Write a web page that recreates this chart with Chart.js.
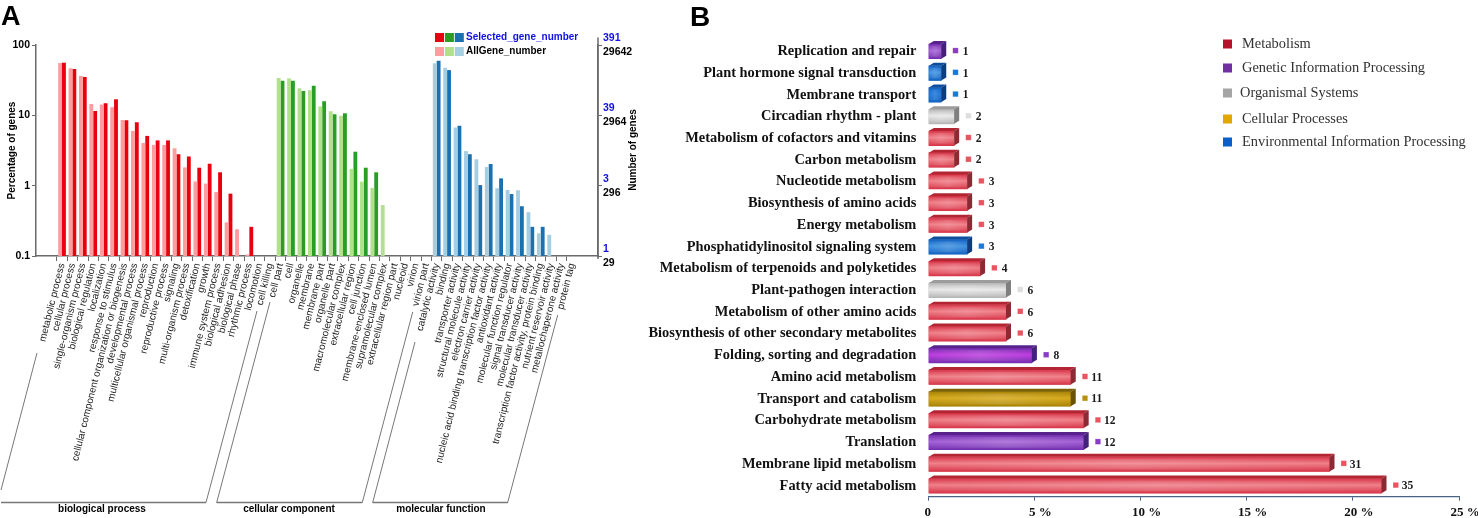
<!DOCTYPE html>
<html><head><meta charset="utf-8">
<script src="https://cdn.jsdelivr.net/npm/chart.js@4"></script>
<style>
html,body{margin:0;padding:0;background:#fff;overflow:hidden}
canvas{position:absolute;top:0}
#a{left:0}#b{left:630px}
</style></head><body>
<canvas id="a" width="645" height="518"></canvas>
<canvas id="b" width="848" height="518"></canvas>
<script>
// ---------- Panel A data ----------
const goCategories = ["","",
 "metabolic process","cellular process","single-organism process","biological regulation","localization","response to stimulus","cellular component organization or biogenesis","developmental process","multicellular organismal process","reproduction","reproductive process","signaling","multi-organism process","detoxification","growth","immune system process","biological adhesion","biological phase","rhythmic process","locomotion","cell killing",
 "cell part","cell","organelle","membrane","membrane part","organelle part","macromolecular complex","extracellular region","cell junction","membrane-enclosed lumen","supramolecular complex","extracellular region part","nucleoid","virion","virion part",
 "catalytic activity","binding","transporter activity","structural molecule activity","electron carrier activity","nucleic acid binding transcription factor activity","antioxidant activity","molecular function regulator","signal transducer activity","molecular transducer activity","transcription factor activity, protein binding","nutrient reservoir activity","metallochaperone activity","protein tag",
 "",""];
const allGene = [null,null,
 55.5,46.6,36.2,14.5,14.3,13,8.6,6,4.05,3.8,3.8,3.4,1.82,1.15,1.07,.81,.3,.24,.105,null,null,
 34,33.5,24.2,22.7,13.3,11.4,9.9,1.73,1.14,.93,.53,null,null,null,null,
 54.9,47.6,6.7,3.1,2.37,1.84,.92,.87,.86,.42,.21,.2,null,null,
 null,null];
const selectedGene = [null,null,
 56,45.6,35,11.5,14.8,16.9,8.5,8,5.1,4.4,4.4,2.8,2.6,1.8,2.05,1.55,.77,null,.26,null,null,
 31,31,22.2,26.4,15.8,10.4,10.7,3.04,1.8,1.55,null,null,null,null,null,
 59.9,44,7.1,2.8,1.02,2.03,1.27,.76,.51,.26,.26,null,null,null,
 null,null];
const groupNames = ["biological process","cellular component","molecular function"];
const groupSizes = [21,15,14];
const leftTicks = [0.1,1,10,100];
const rightSelected = ["1","3","39","391"];
const rightAll = ["29","296","2964","29642"];
const lightColors = ["#ff9c9f","#b2e08c","#a6cee3"];
const darkColors = ["#e8000f","#2a9d26","#1b70b0"];

// ---------- Panel B data ----------
const pathways = ["Replication and repair","Plant hormone signal transduction","Membrane transport","Circadian rhythm - plant","Metabolism of cofactors and vitamins","Carbon metabolism","Nucleotide metabolism","Biosynthesis of amino acids","Energy metabolism","Phosphatidylinositol signaling system","Metabolism of terpenoids and polyketides","Plant-pathogen interaction","Metabolism of other amino acids","Biosynthesis of other secondary metabolites","Folding, sorting and degradation","Amino acid metabolism","Transport and catabolism","Carbohydrate metabolism","Translation","Membrane lipid metabolism","Fatty acid metabolism"];
const percents = [.61,.61,.61,1.22,1.22,1.22,1.83,1.83,1.83,1.83,2.44,3.66,3.66,3.66,4.88,6.71,6.71,7.32,7.32,18.9,21.35];
const geneCounts = [1,1,1,2,2,2,3,3,3,3,4,6,6,6,8,11,11,12,12,31,35];
const pathwayClass = [1,4,4,2,0,0,0,0,0,4,0,2,0,0,1,0,3,0,1,0,0];
const classNames = ["Metabolism","Genetic Information Processing","Organismal Systems","Cellular Processes","Environmental Information Processing"];
const classSwatch = ["#b5122b","#7030a0","#a5a5a5","#e0a800","#0a60c8"];
const xTicksB = [0,5,10,15,20,25];

const SANS='"Liberation Sans", Arial, sans-serif', SERIF='"Liberation Serif", "Times New Roman", serif';
const AXIS='#6a6a6a';
function groupOf(i){let k=i-2;for(let g=0;g<groupSizes.length;g++){if(k<groupSizes[g])return g;k-=groupSizes[g];}return 0;}

// ---------- Panel A decorations ----------
const brackets=[
 [[37,353],[1,490]],
 [[1,502.5],[206,502.5],[257,311]],
 [[270,302],[216.7,502.5],[362.3,502.5],[412.7,312]],
 [[415,342],[372.7,502.5],[507.7,502.5],[557.7,315]]
];
const groupLabelX=[102,289,441];
const panelA={id:'panelA',afterDraw(c){
 const x=c.ctx,y1=c.scales.y1,L=c.chartArea;
 x.save();
 x.fillStyle='#000';x.font='bold 27px '+SANS;x.textBaseline='alphabetic';x.textAlign='left';x.fillText('A',1,25);
 x.strokeStyle=AXIS;x.lineWidth=1.5;
 x.beginPath();x.moveTo(L.right,L.top-7.5);x.lineTo(L.right,L.bottom+3);x.stroke();
 x.font='bold 10.5px '+SANS;x.textBaseline='middle';
 leftTicks.forEach((v,i)=>{const p=y1.getPixelForValue(v);
  x.fillStyle='#1010e8';x.fillText(rightSelected[i],603,p-7);
  x.fillStyle='#000';x.fillText(rightAll[i],603,p+7);});
 x.save();x.translate(633,150);x.rotate(-Math.PI/2);x.textAlign='center';x.fillStyle='#000';x.font='bold 10px '+SANS;x.fillText('Number of genes',0,0);x.restore();
 x.strokeStyle='#777';x.lineWidth=1;
 brackets.forEach(b=>{x.beginPath();b.forEach((p,i)=>i?x.lineTo(p[0],p[1]):x.moveTo(p[0],p[1]));x.stroke();});
 x.lineWidth=1.6;x.beginPath();
 [[1,206],[216.7,362.3],[372.7,507.7]].forEach(s=>{x.moveTo(s[0],502.5);x.lineTo(s[1],502.5);});x.stroke();
 x.fillStyle='#000';x.font='bold 10px '+SANS;x.textAlign='center';x.textBaseline='middle';
 groupNames.forEach((n,i)=>x.fillText(n,groupLabelX[i],509.5));
 [darkColors,lightColors].forEach((cols,r)=>{cols.forEach((col,i)=>{x.fillStyle=col;x.fillRect(435+i*9.9,33+r*14,9,9);});});
 x.textAlign='left';x.font='bold 10px '+SANS;
 x.fillStyle='#1010e8';x.fillText('Selected_gene_number',466,37);
 x.fillStyle='#000';x.fillText('AllGene_number',466,51);
 x.restore();
}};

new Chart(document.getElementById('a'),{type:'bar',plugins:[panelA],
 data:{labels:goCategories,datasets:[
  {label:'AllGene_number',data:allGene,backgroundColor:c=>lightColors[groupOf(c.dataIndex)]},
  {label:'Selected_gene_number',data:selectedGene,backgroundColor:c=>darkColors[groupOf(c.dataIndex)]}]},
 options:{responsive:false,animation:false,devicePixelRatio:1,
  layout:{padding:{top:45,left:0,right:0,bottom:0}},
  plugins:{legend:{display:false},tooltip:{enabled:false}},
  datasets:{bar:{categoryPercentage:.74,barPercentage:1}},
  scales:{
   x:{type:'category',offset:true,
    afterFit(s){s.height=262;s.paddingLeft=0;s.paddingRight=0;},
    grid:{offset:true,drawOnChartArea:false,drawTicks:true,tickLength:5,
      tickColor:c=>(c.index>=2&&c.index<=51)?AXIS:'rgba(0,0,0,0)'},
    border:{color:AXIS,width:1.5},
    ticks:{autoSkip:false,minRotation:76,maxRotation:76,padding:1,color:'#222',font:{family:SANS,size:10}}},
   y:{type:'logarithmic',min:.1,max:100,position:'left',
    afterFit(s){s.width=36;s.paddingTop=0;s.paddingBottom=0;},
    afterBuildTicks(s){s.ticks=leftTicks.map(v=>({value:v}));},
    grid:{drawOnChartArea:false,tickLength:4,tickColor:AXIS},
    border:{color:AXIS,width:1.5},
    title:{display:true,text:'Percentage of genes',color:'#000',font:{family:SANS,size:10,weight:'bold'},padding:{top:6,bottom:0}},
    ticks:{padding:2,color:'#000',font:{family:SANS,size:10.5,weight:'bold'},callback:v=>String(v)}},
   y1:{type:'logarithmic',min:.1,max:100,position:'right',
    afterFit(s){s.width=47;s.paddingTop=0;s.paddingBottom=0;},
    afterBuildTicks(s){s.ticks=leftTicks.map(v=>({value:v}));},
    grid:{drawOnChartArea:false,tickLength:4,tickColor:AXIS},
    border:{color:AXIS,width:1.5},
    ticks:{display:false}}
  }}});

// ---------- Panel B ----------
const bandStyles=[
 {edge:'#d8374a',mid:'#ef8089',top:'#b42533',side:'#8c2a34',sq:'#ea5460'},
 {edge:'#7530b0',mid:'#a463d6',top:'#57228c',side:'#43207a',sq:'#8a3cc8'},
 {edge:'#b6b6b6',mid:'#e8e8e8',top:'#9c9c9c',side:'#7f7f7f',sq:'#dedede'},
 {edge:'#a88408',mid:'#d6aa1a',top:'#7d6308',side:'#695206',sq:'#b8900c'},
 {edge:'#1463c2',mid:'#4293e2',top:'#0f4e9c',side:'#0d3d7e',sq:'#1a78d8'}];
const rowMid={2:'#1f78dc',14:'#c03ce0'};
const DEPTHX=5,DEPTHY=3,BAR_H=14.6;
const legendRows=[[1242,44],[1242,68],[1240,93],[1242,119],[1242,142]];
const panelB={id:'panelB',afterDatasetsDraw(c){
 const x=c.ctx,m=c.getDatasetMeta(0),ox=630;
 x.save();
 m.data.forEach((el,i)=>{const s=bandStyles[pathwayClass[i]],t=el.y-BAR_H/2,b=el.y+BAR_H/2,e=el.x,z=el.base;
  const v=x.createLinearGradient(0,t,0,b);v.addColorStop(0,s.edge);v.addColorStop(.45,rowMid[i]||s.mid);v.addColorStop(1,s.edge);
  x.fillStyle=v;x.fillRect(z,t,e-z,BAR_H);
  x.fillStyle=s.top;x.beginPath();x.moveTo(z,t);x.lineTo(z+DEPTHX,t-DEPTHY);x.lineTo(e+DEPTHX,t-DEPTHY);x.lineTo(e,t);x.closePath();x.fill();
  x.fillStyle=s.side;x.beginPath();x.moveTo(e,t);x.lineTo(e+DEPTHX,t-DEPTHY);x.lineTo(e+DEPTHX,b-DEPTHY);x.lineTo(e,b);x.closePath();x.fill();
  const g=x.createLinearGradient(z,0,e,0);g.addColorStop(0,'rgba(255,255,255,0)');g.addColorStop(.5,'rgba(255,255,255,.14)');g.addColorStop(1,'rgba(255,255,255,0)');
  x.fillStyle=g;x.fillRect(z,t+2,e-z,BAR_H-4);
  x.fillStyle=s.sq;x.fillRect(e+11.5,el.y-3.5,5.5,5.5);
  x.strokeStyle='rgba(255,255,255,.35)';x.lineWidth=.6;x.strokeRect(e+11.5,el.y-3.5,5.5,5.5);
  x.fillStyle='#1a1a1a';x.font='bold 11.5px '+SERIF;x.textAlign='center';x.textBaseline='middle';
  x.fillText(String(geneCounts[i]),e+(geneCounts[i]>9?26:24.5),el.y+.5);
 });
 x.fillStyle='#000';x.font='bold 28px '+SANS;x.textAlign='left';x.textBaseline='alphabetic';x.fillText('B',60,26);
 classNames.forEach((n,i)=>{const r=legendRows[i];
  x.fillStyle=classSwatch[i];x.fillRect(1223-ox,r[1]-4.5,9,9);
  x.fillStyle='#333';x.font='14.4px '+SERIF;x.textBaseline='middle';x.fillText(n,r[0]-ox,r[1]);});
 x.restore();
}};
new Chart(document.getElementById('b'),{type:'bar',plugins:[panelB],
 data:{labels:pathways,datasets:[{label:'Percent',data:percents,barThickness:BAR_H,borderWidth:0,
  backgroundColor:c=>bandStyles[pathwayClass[c.dataIndex]].edge}]},
 options:{indexAxis:'y',responsive:false,animation:false,devicePixelRatio:1,
  layout:{padding:{top:40.5,left:0,right:19,bottom:0}},
  plugins:{legend:{display:false},tooltip:{enabled:false}},
  scales:{
   y:{type:'category',offset:true,
    afterFit(s){s.width=298.3;s.paddingTop=0;s.paddingBottom=0;},
    grid:{display:false,drawTicks:false},border:{display:false},
    ticks:{autoSkip:false,padding:12,color:'#111',font:{family:SERIF,size:14.4,weight:'bold'}}},
   x:{type:'linear',min:0,max:25,position:'bottom',
    afterFit(s){s.height=21.3;s.paddingLeft=0;s.paddingRight=0;},
    afterBuildTicks(s){s.ticks=xTicksB.map(v=>({value:v}));},
    grid:{drawOnChartArea:false,tickLength:4,tickColor:'#4a6285'},
    border:{color:'#4a6285',width:1.2},
    ticks:{maxRotation:0,minRotation:0,padding:4,labelOffset:6,color:'#111',font:{family:SERIF,size:13,weight:'bold'},
      callback:v=>v===0?'0    ':v+' %'}}
  }}});
</script>
</body></html>
